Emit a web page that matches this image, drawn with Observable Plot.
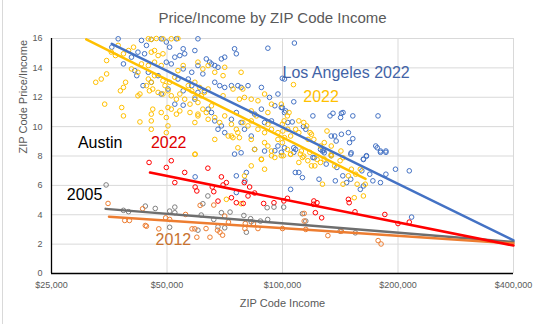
<!DOCTYPE html>
<html>
<head>
<meta charset="utf-8">
<script src="https://cdn.jsdelivr.net/npm/d3@7"></script>
<script src="https://cdn.jsdelivr.net/npm/@observablehq/plot@0.6"></script>
<style>
  body { margin: 0; background: #fff; }
  #wrap { position: relative; width: 545px; height: 324px; overflow: hidden; font-family: "Liberation Sans", Arial, sans-serif; }
  #title { height: 30px; line-height: 35px; text-align: center; font-size: 15px; color: #595959; }
  #edge { position: absolute; left: 2px; top: 0; width: 1px; height: 324px; background: #d9d9d9; }
</style>
</head>
<body>
<div id="wrap">
  <div id="edge"></div>
  <div id="title">Price/Income by ZIP Code Income</div>
  <div id="chart"></div>
</div>
<script>
// ---- data: [ZIP code income in $ thousands, price/income ratio] ----
const laBlue = [
  [35.9,15.41],[37.3,15.98],[42.9,15.87],[44.2,15.53],[45.5,15.94],[48.3,15.98],[49.8,15.76],[50.8,15.41],[52.9,15.98],[55.1,15.30],
  [55.6,14.96],[59.1,15.18],[60.2,15.98],[63.3,14.61],[64.6,14.39],[69.3,14.61],[70.7,14.73],[75.0,15.30],[75.8,14.96],[91.6,15.34],
  [38.5,14.27],[40.4,14.73],[42.0,15.07],[43.7,14.96],[41.2,13.81],[41.7,13.47],[44.7,13.70],[47.4,13.47],[49.8,14.39],[51.3,14.27],
  [52.4,14.73],[54.0,14.84],[55.1,13.93],[58.0,13.70],[60.2,14.16],[62.0,13.59],[65.3,14.27],[66.6,14.16],[67.9,14.04],
  [43.3,12.79],[45.5,13.02],[48.3,12.22],[50.3,12.56],[53.4,13.24],[55.1,12.44],[56.8,13.24],[58.0,12.79],[60.2,12.33],[62.6,12.44],
  [66.6,13.02],[68.6,12.79],[70.7,12.67],[73.6,12.79],[76.5,12.79],[78.0,12.67],[81.3,12.79],[88.1,12.67],[92.5,11.99],[97.3,12.22],[101.2,13.24],
  [64.0,11.19],[65.3,10.96],[66.6,10.39],[67.9,9.82],[69.3,10.05],[70.7,9.59],[73.6,10.50],[75.8,10.96],[78.0,10.28],[79.6,9.82],
  [82.9,9.36],[84.6,10.85],[88.1,11.19],[89.8,10.28],[93.6,10.39],[95.5,11.42],[99.3,11.30],[101.2,10.96],[103.2,10.28],
  [52.4,11.53],[55.1,11.46],[59.1,11.87],[78.0,8.22],[89.8,8.34],[97.3,8.68],[101.2,8.56],[84.6,8.45],
  [107.4,15.69],[99.9,13.29],[107,11.69],[99.9,11.30],[101.9,11.07],[106,10.32],[120,10.73],[133,10.73],[135.4,10.91],[142.4,10.91],
  [143.8,10.96],[141.7,10.62],[152.5,10.73],[177.4,10.73],[113.4,10.0],[115,9.82],[134,9.36],[136.8,9.36],[142.4,9.48],[148.5,9.59],
  [138,9.02],[149.5,8.91],[152.5,9.18],[175,8.68],[176.6,8.56],[180,8.34],[186,8.34],[107,8.56],[108.2,8.45],[127,8.34],
  [128.5,8.22],[125.6,8.45],[151,8.22],[162.5,7.76],[165.5,7.99],[121,7.88],
  [107,8.25],[120,7.9],[128,8.36],[134,8.02],[150.6,8.13],[162.5,7.79],[165.5,8.02],[180,8.25],[186,8.25],[108,6.88],
  [110.3,6.88],[112.7,6.53],[130,7.45],[124.5,6.42],[138.6,7.22],[143.6,6.65],[137.3,6.31],[146.9,6.19],[150.6,6.42],[161,6.99],
  [168.8,6.76],[172,6.31],[180,6.19],[186,6.76],[197,7.10],[214,6.99],[159.5,5.73],[162.5,5.96],[105,5.73],[217,3.84],
  [75,8.13],[59.2,6.58],[75.8,6.65],[80.5,6.88],[75.8,5.51],[79.8,6.31],[95.5,8.36],[99.3,8.25]
];
const laYellow = [
  [34.8,14.5],[36.7,14.84],[38.5,14.96],[35.8,15.07],[37.3,15.53],[32.6,13.02],[33.7,13.24],[34.8,13.59],[39.0,13.02],[37.8,12.44],
  [38.5,12.67],[34.4,11.53],[38.1,11.30],[38.5,10.73],[42.5,10.32],[42.0,12.10],[42.5,12.22],
  [44.7,15.98],[45.5,15.94],[46.9,16.0],[48.8,15.98],[51.3,15.98],[53.4,16.0],
  [45.5,15.07],[46.4,15.18],[47.4,14.84],[48.8,14.96],[39.7,15.18],[40.9,15.41],
  [42.9,14.27],[44.7,14.16],[46.4,14.39],[48.3,14.16],[40.4,13.93],[42.0,13.70],
  [44.7,13.24],[45.5,13.02],[46.4,13.47],[48.8,13.13],[49.4,12.79],[50.8,13.02],[52.4,13.36],[53.4,13.81],[55.1,14.16],
  [44.2,12.79],[45.0,12.44],[45.9,12.56],[47.4,12.33],[48.8,12.22],[50.3,12.44],[51.3,12.1],[52.9,11.87],[54.0,12.22],
  [56.8,12.79],[58.0,12.44],[59.1,13.02],[60.8,12.67],[61.4,12.1],[62.6,12.33],[64.0,12.56],
  [55.6,11.87],[57.4,11.53],[59.1,11.99],[60.2,11.64],[62.0,11.19],[63.3,10.96],[65.3,11.42],
  [60.2,14.39],[62.0,13.93],[64.0,14.16],[66.6,13.70],[70.7,14.04],[70.0,13.47],[78.0,13.70],
  [45.9,11.19],[50.3,11.30],[51.3,11.19],[52.9,10.85],[54.0,11.07],[45.5,10.85],[49.8,10.62],[48.3,10.96],
  [45.5,10.39],[50.3,10.05],[49.8,9.59],[59.1,10.28],[57.4,10.96],[60.2,10.73],[45.5,9.82],
  [60.2,10.85],[64.0,10.5],[66.6,10.62],[68.6,10.28],[70.7,10.73],[73.6,10.16],[75.8,9.82],[72.2,9.36],[74.3,9.25],[76.5,9.59],
  [78.8,10.28],[81.3,10.05],[82.9,10.39],[85.5,10.73],[86.3,9.82],[89.8,9.59],[91.6,10.16],[93.6,9.82],[97.3,9.59],[100.2,9.7],
  [103.2,9.82],[82.9,9.13],[89.8,8.91],[97.3,9.13],[101.2,9.25],[105,9.36],
  [79.6,11.99],[82.9,11.87],[86.3,11.76],[89.8,12.22],[93.6,11.53],[99.3,11.53],[82.9,11.07],[91.6,10.96],
  [66.6,9.13],[73.6,9.36],[77.2,9.25],
  [59.1,8.11],[76.5,8.56],[84.6,8.45],[91.6,8.68],[93.6,8.34],[88.1,7.76],
  [70,12.1],[74.3,12.56],[77.2,11.87],[78.8,12.56],
  [59.2,8.13],[82.9,7.33],[88.1,7.79],[89.8,7.10],[93.6,8.02],[95.5,7.9],[99.3,8.02],[105,8.13],[79.6,6.65],[71.4,5.05],[78,4.75],
  [106.8,12.86],[103,10.73],[104,10.96],[101,10.39],[99.9,10.16],[110.3,10.39],[113.6,10.28],[115.6,10.05],[108.2,9.82],[110.3,9.59],
  [118,9.59],[119,9.48],[116.6,9.13],[120.7,9.13],[130.6,9.7],[128.5,8.91],[134,8.68],[125.6,8.68],[99.9,8.91],[103,8.45],
  [105,8.11],[112,8.34],[113.6,7.99],[123.1,7.76],[134,8.11],[142,8.34],[143.8,7.88],
  [100.5,8.02],[111.3,8.13],[112.7,7.9],[117.8,8.25],[119,7.33],[121.4,7.33],[125.6,7.56],[128.5,7.79],[134,8.02],[136.7,7.33],
  [141.3,7.68],[143.8,6.08],[148.5,6.65],[151.2,7.1],[155.2,6.76],[156.5,6.08],[159.5,7.1],[162.5,5.28],[164.3,6.08],[153.8,5.16],
  [127.1,6.08],[110.3,7.56],[116.4,7.68]
];
const austin2022 = [
  [44.9,7.56],[49.8,7.22],[51.3,7.68],[52.4,6.19],[55.6,6.88],[59.2,5.89],[59.8,5.62],[63.9,7.17],[65.6,5.89],[66.2,5.57],
  [67.9,4.93],[69.3,6.58],[70,6.03],[71.4,6.19],[73.6,5.16],[79.5,6.19],[82.1,5.89],[81.3,5.28],[84.6,5.48],[89.3,4.77],
  [95,4.82],[75.8,4.82],[79,4.77],[100.8,4.94],[103,5.12],[120.7,4.94],[123,4.82],[120.5,4.71],[148.5,5.05],[149.2,4.82],
  [121.8,4.14],[126.5,3.79],[154.5,4.2],[184.8,4.02],[200,3.40],[214,3.5]
];
const austin2005 = [
  [34.7,6.03],[38.5,4.3],[39.7,4.21],[43.9,4.59],[46.6,4.43],[50.8,4.25],[52.4,4.52],[50.8,3.15],[62,4.75],[61.4,3.98],
  [63.9,5.28],[66.2,3.68],[69.3,4.14],[73,4.18],[70.7,3.11],[67.9,3.18],[80.5,2.81],[79.3,3.95],[82.6,3.73],[82.9,3.52],
  [87.6,3.57],[91.5,3.68],[91.2,4.48],[95,4.52],[100.7,4.52],[60.2,2.95],[52.4,4.14],[112.7,4.07],[115,3.57],[154.8,2.77],[141.3,2.88]
];
const austin2012 = [
  [35.1,4.77],[38.8,3.61],[39.9,3.61],[43.2,4.41],[43.9,3.27],[44.2,3.22],[47.6,3.04],[49.6,3.79],[50.8,3.68],[55.9,4.02],
  [58.1,3.04],[59.1,3.04],[59.8,2.47],[61,4.64],[63.2,3.06],[64.7,2.47],[66.2,4.66],[67.7,2.95],[68.7,2.81],[69.8,2.61],
  [70.7,3.91],[72.3,3.5],[79.8,3.06],[80,3.4],[84,3.38],[86.3,3.06],[100,3.06],[113.9,4.09],[113.9,3.57],[115,3.0],
  [131.3,2.58],[142.4,2.88],[177.5,2.24],[180.7,2.01]
];
// logarithmic trend lines (endpoints, $ thousands / ratio)
const trendLaBlue = [[35.9,15.64],[400,2.26]];
const trendLaYellow = [[30.8,15.94],[164.6,6.44]];
const trendAustin2022 = [[45.15,6.87],[400,1.9]];
const trendAustin2005 = [[34.6,4.40],[400,2.15]];
const trendAustin2012 = [[35.3,3.86],[400,2.05]];
// ticks
const xTicks = [25000, 50000, 100000, 200000, 400000];
const yTicks = [0, 2, 4, 6, 8, 10, 12, 14, 16];

const rows = pts => pts.map(([k, r]) => ({income: k * 1000, ratio: r}));

const colors = {blue: "#4472C4", yellow: "#FFC000", red: "#FF0000", gray: "#7F7F7F", orange: "#ED7D31"};

const dotOpts = c => ({x: "income", y: "ratio", r: 2.3, stroke: c, strokeWidth: 1, fill: "none"});
const lineOpts = c => ({x: "income", y: "ratio", stroke: c, strokeWidth: 2.5});

const annotations = [
  {text: "Los Angeles 2022", income: 100000, ratio: 13.65, color: "#4263A6"},
  {text: "2022", income: 113300, ratio: 12.05, color: "#FFC000"},
  {text: "Austin", income: 29300, ratio: 8.92, color: "#000000"},
  {text: "2022", income: 45400, ratio: 8.92, color: "#E00000"},
  {text: "2005", income: 27400, ratio: 5.34, color: "#000000"},
  {text: "2012", income: 46700, ratio: 2.26, color: "#C8722F"}
];

const plot = Plot.plot({
  width: 545,
  height: 294,
  marginLeft: 51,
  marginRight: 32,
  marginTop: 8,
  marginBottom: 51,
  style: {fontFamily: "'Liberation Sans', Arial, sans-serif", background: "transparent"},
  x: {type: "log", domain: [25000, 400000]},
  y: {domain: [0, 16]},
  marks: [
    Plot.gridX(xTicks, {stroke: "#d9d9d9", strokeOpacity: 1}),
    Plot.gridY(yTicks, {stroke: "#d9d9d9", strokeOpacity: 1}),
    Plot.axisX(xTicks, {tickSize: 0, tickPadding: 8, tickFormat: d3.format("$,"), fontSize: 9, color: "#595959", label: null}),
    Plot.axisY(yTicks, {tickSize: 0, tickPadding: 9, fontSize: 9, color: "#595959", label: null}),
    Plot.dot(rows(laBlue), dotOpts(colors.blue)),
    Plot.dot(rows(laYellow), dotOpts(colors.yellow)),
    Plot.dot(rows(austin2022), dotOpts(colors.red)),
    Plot.dot(rows(austin2005), dotOpts(colors.gray)),
    Plot.dot(rows(austin2012), dotOpts(colors.orange)),
    Plot.line(rows(trendLaYellow), lineOpts(colors.yellow)),
    Plot.line(rows(trendLaBlue), lineOpts(colors.blue)),
    Plot.line(rows(trendAustin2005), lineOpts("#6E6E6E")),
    Plot.line(rows(trendAustin2012), lineOpts(colors.orange)),
    Plot.line(rows(trendAustin2022), lineOpts(colors.red)),
    Plot.ruleX([25000], {stroke: "#000", strokeWidth: 1.3}),
    Plot.ruleY([0], {stroke: "#000", strokeWidth: 1.3}),
    ...annotations.map(a => Plot.text([a], {x: "income", y: "ratio", text: "text", textAnchor: "start", fontSize: 16, fill: a.color})),
    Plot.text(["ZIP Code Income"], {frameAnchor: "bottom", dy: 33, fontSize: 11, fill: "#595959"}),
    Plot.text(["ZIP Code Price/Income"], {frameAnchor: "left", dx: -28.5, dy: -2.5, rotate: -90, fontSize: 11, fill: "#595959"})
  ]
});
document.getElementById("chart").appendChild(plot);
</script>
</body>
</html>
